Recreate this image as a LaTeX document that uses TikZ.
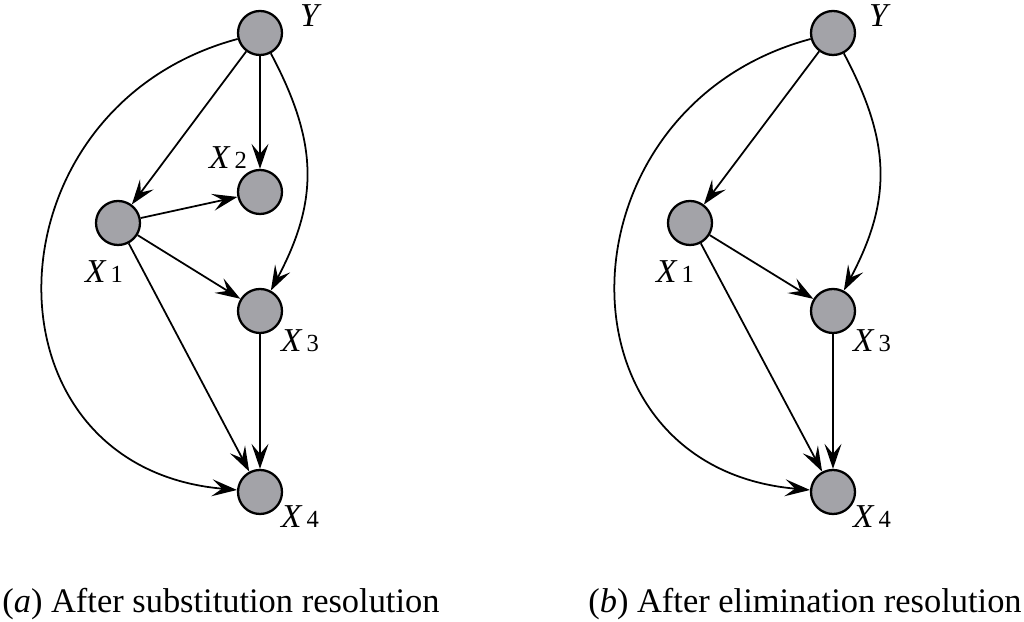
\documentclass[tikz,border=0pt]{standalone}
\usepackage{fontspec}
\setmainfont{Liberation Serif}
\usepackage{tikz}
\usetikzlibrary{arrows.meta, positioning, calc}
\definecolor{nodecolor}{RGB}{163,163,168}
\newcommand{\varlbl}[1]{\textit{X}\hspace{0.12em}{\fontsize{14}{14}\selectfont #1}}

\begin{document}
\begin{tikzpicture}[
    var/.style={circle, draw, line width=1.3pt, fill=nodecolor, minimum size=0.88cm, inner sep=0pt},
    lbl/.style={font=\fontsize{19}{22}\selectfont, inner sep=0pt},
    caption/.style={font=\fontsize{19.6}{24}\selectfont, inner sep=0pt, anchor=base west},
    arrow/.style={-{Stealth[length=0.5cm, width=0.34cm, inset=0.2cm]}, line width=1pt}
]
    \useasboundingbox (0,0) rectangle (20.48,12.44);

    % (a) substitution
    \node[var] (ya) at (5.2,11.78) {};
    \node[var] (xb) at (5.2,8.6) {};
    \node[var] (xa) at (2.36,7.98) {};
    \node[var] (xc) at (5.2,6.22) {};
    \node[var] (xd) at (5.2,2.6) {};

    \node[lbl] (ya-l) at (6.22,12.12) {\textit{Y}};
    \node[lbl] (xb-l) at (4.56,9.28) {\varlbl{2}};
    \node[lbl] (xa-l) at (2.08,7.0) {\varlbl{1}};
    \node[lbl] (xc-l) at (6.0,5.62) {\varlbl{3}};
    \node[lbl] (xd-l) at (6.0,2.1) {\varlbl{4}};

    \draw[arrow] (ya) -- (xa);
    \draw[arrow] (ya) -- (xb);
    \draw[arrow] (xa) -- (xb);
    \draw[arrow] (xa) -- (xc);
    \draw[arrow] (xa) -- (xd);
    \draw[arrow] (xc) -- (xd);
    \draw[arrow] (ya) to[out=-62, in=62, looseness=1.1] (xc);
    \draw[arrow] (ya) to[out=195, in=175, looseness=1.5] (xd);

    % (b) elimination
    \node[var] (yb) at (16.66,11.78) {};
    \node[var] (za) at (13.8,7.98) {};
    \node[var] (zc) at (16.66,6.22) {};
    \node[var] (zd) at (16.66,2.6) {};

    \node[lbl] (yb-l) at (17.6,12.12) {\textit{Y}};
    \node[lbl] (za-l) at (13.5,7.0) {\varlbl{1}};
    \node[lbl] (zc-l) at (17.44,5.62) {\varlbl{3}};
    \node[lbl] (zd-l) at (17.44,2.1) {\varlbl{4}};

    \draw[arrow] (yb) -- (za);
    \draw[arrow] (za) -- (zc);
    \draw[arrow] (za) -- (zd);
    \draw[arrow] (zc) -- (zd);
    \draw[arrow] (yb) to[out=-62, in=62, looseness=1.1] (zc);
    \draw[arrow] (yb) to[out=195, in=175, looseness=1.5] (zd);

    % Captions
    \node[caption] (cap-a) at (0.04,0.18) {(\textit{a}) After substitution resolution};
    \node[caption] (cap-b) at (11.76,0.18) {(\textit{b}) After elimination resolution};
\end{tikzpicture}
\end{document}
